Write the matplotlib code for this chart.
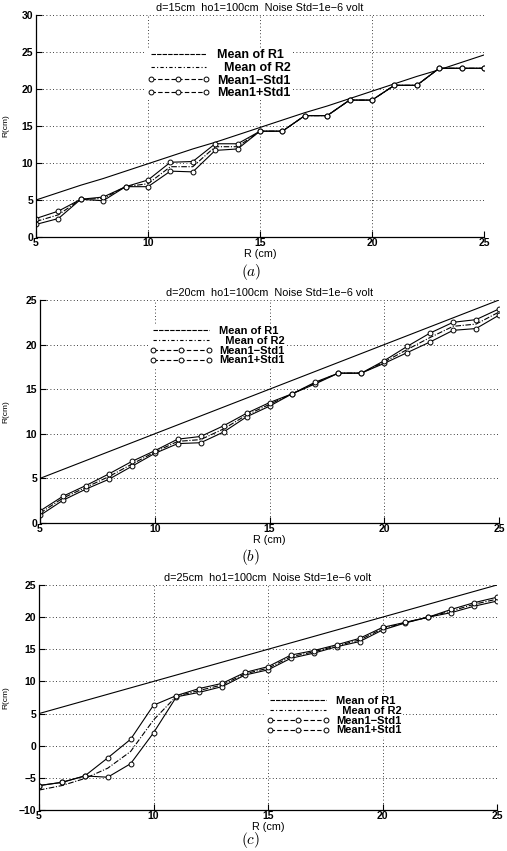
import numpy as np
import matplotlib
matplotlib.use('Agg')
import matplotlib.pyplot as plt
from matplotlib.lines import Line2D

plt.rcParams['font.family'] = ['Liberation Sans', 'DejaVu Sans']
plt.rcParams['font.weight'] = 'bold'
plt.rcParams['mathtext.fontset'] = 'cm'

# Data
R = [5, 6, 7, 8, 9, 10, 11, 12, 13, 14, 15, 16, 17, 18, 19, 20, 21, 22, 23, 24, 25]

# (a) d = 15 cm
r1_a = [5.0, 6.0, 7.0, 7.9, 8.9, 9.9, 10.9, 11.9, 12.8, 13.8, 14.8,
        15.8, 16.8, 17.7, 18.7, 19.7, 20.7, 21.7, 22.6, 23.6, 24.6]
r2_a = [2.1, 3.0, 5.1, 5.2, 6.8, 7.2, 9.5, 9.5, 12.2, 12.2, 14.3,
        14.3, 16.4, 16.4, 18.5, 18.5, 20.5, 20.5, 22.8, 22.8, 22.8]
lo_a = [1.7, 2.5, 5.1, 4.9, 6.8, 6.8, 8.9, 8.8, 11.7, 11.9, 14.3,
        14.3, 16.4, 16.4, 18.5, 18.5, 20.5, 20.5, 22.8, 22.8, 22.8]
hi_a = [2.5, 3.5, 5.1, 5.4, 6.8, 7.7, 10.1, 10.2, 12.6, 12.6, 14.3,
        14.3, 16.4, 16.4, 18.5, 18.5, 20.5, 20.5, 22.8, 22.8, 22.8]

# (b) d = 20 cm
r1_b = [5, 6, 7, 8, 9, 10, 11, 12, 13, 14, 15,
        16, 17, 18, 19, 20, 21, 22, 23, 24, 25]
r2_b = [1.1, 2.8, 4.0, 5.2, 6.6, 7.95, 9.15, 9.35, 10.55, 12.1, 13.3,
        14.5, 15.7, 16.8, 16.8, 18.05, 19.45, 20.8, 22.05, 22.3, 23.65]
lo_b = [0.85, 2.55, 3.8, 4.9, 6.35, 7.8, 8.9, 9.0, 10.2, 11.9, 13.1,
        14.5, 15.6, 16.8, 16.8, 17.9, 19.1, 20.3, 21.6, 21.8, 23.3]
hi_b = [1.35, 3.0, 4.2, 5.5, 6.9, 8.1, 9.4, 9.7, 10.9, 12.3, 13.5,
        14.5, 15.8, 16.8, 16.8, 18.2, 19.8, 21.3, 22.5, 22.8, 24.0]

# (c) d = 25 cm
r1_c = [5, 6, 7, 8, 9, 10, 11, 12, 13, 14, 15,
        16, 17, 18, 19, 20, 21, 22, 23, 24, 25]
r2_c = [-6.9, -6.2, -5.1, -3.5, -0.9, 4.0, 7.7, 8.6, 9.45, 11.2, 12.05,
        13.85, 14.6, 15.55, 16.45, 18.2, 19.15, 20.0, 20.95, 22.0, 22.8]
lo_c = [-6.2, -5.7, -4.7, -4.9, -2.8, 2.0, 7.6, 8.3, 9.2, 11.0, 11.8,
        13.6, 14.4, 15.4, 16.2, 18.0, 19.1, 20.0, 20.7, 21.7, 22.5]
hi_c = [-6.2, -5.7, -4.7, -1.9, 1.0, 6.3, 7.8, 8.9, 9.7, 11.4, 12.3,
        14.1, 14.8, 15.7, 16.7, 18.4, 19.2, 20.0, 21.2, 22.25, 23.1]

titles = ['d=15cm  ho1=100cm  Noise Std=1e\u22126 volt',
          'd=20cm  ho1=100cm  Noise Std=1e\u22126 volt',
          'd=25cm  ho1=100cm  Noise Std=1e\u22126 volt']
labels = ['Mean of R1', '  Mean of R2', 'Mean1\u2212Std1', 'Mean1+Std1']
captions = ['$(a)$', '$(b)$', '$(c)$']
ylims = [(0, 30), (0, 25), (-10, 25)]
yticks = [range(0, 31, 5), range(0, 26, 5), range(-10, 26, 5)]

W, H = 507, 851
# axes boxes in pixels: left, right, top, bottom
boxes = [(36, 484, 15, 237), (40, 499, 300, 523), (39, 497, 585, 810)]
legend_pos = [(146, 48), (149, 325), (266, 695)]
legend_fs = [9, 8, 8]
legend_gap = [0.05, -0.02, -0.02]
caption_y = [272, 557, 840]

fig = plt.figure(figsize=(W / 100, H / 100), dpi=100)

series = [(r1_a, r2_a, lo_a, hi_a), (r1_b, r2_b, lo_b, hi_b), (r1_c, r2_c, lo_c, hi_c)]

for i, (r1, r2, lo, hi) in enumerate(series):
    l, r, t, b = boxes[i]
    ax = fig.add_axes([l / W, 1 - b / H, (r - l) / W, (b - t) / H])
    lw = 0.8
    ax.plot(R, r1, color='k', lw=lw)
    ax.plot(R, r2, color='k', lw=lw, linestyle=(0, (5, 1.5, 1, 1.5)))
    ax.plot(R, lo, color='k', lw=lw, marker='o', ms=3.5, mfc='white', mew=0.7)
    ax.plot(R, hi, color='k', lw=lw, marker='o', ms=3.5, mfc='white', mew=0.7)

    ax.set_xlim(5, 25)
    ax.set_ylim(*ylims[i])
    ax.set_xticks([5, 10, 15, 20, 25])
    ax.set_yticks(list(yticks[i]))
    ax.grid(True, color='k', linestyle=(0, (1, 3)), linewidth=0.6)
    ax.tick_params(direction='in', length=4, labelsize=7.5, pad=2)
    ax.tick_params(axis='x', pad=1)
    for s in ['top', 'right']:
        ax.spines[s].set_visible(False)
    ax.spines['left'].set_linewidth(0.9)
    ax.spines['bottom'].set_linewidth(0.9)

    ax.set_title(titles[i], fontsize=7.8, pad=3)
    ax.set_xlabel('R (cm)', fontsize=7.8)
    ax.xaxis.set_label_coords(0.5, -12 / (b - t))
    ax.set_ylabel('R(cm)', fontsize=6, fontweight='normal')
    ax.yaxis.set_label_coords((9 - l) / (r - l), 0.5)

    handles = [
        Line2D([], [], color='k', lw=lw, linestyle=(0, (4, 1))),
        Line2D([], [], color='k', lw=lw, linestyle=(0, (3, 2, 1, 2))),
        Line2D([], [], color='k', lw=lw, linestyle=(0, (4, 2)), marker='o',
               ms=3.5, mfc='white', mew=0.7),
        Line2D([], [], color='k', lw=lw, linestyle=(0, (4, 2)), marker='o',
               ms=3.5, mfc='white', mew=0.7),
    ]
    lx, ly = legend_pos[i]
    ax.legend(handles, labels, loc='upper left',
              bbox_to_anchor=(lx / W, 1 - ly / H), bbox_transform=fig.transFigure,
              fontsize=legend_fs[i], handlelength=62 / (legend_fs[i] * 100 / 72),
              handletextpad=0.6, numpoints=3,
              labelspacing=legend_gap[i], borderpad=0.1, borderaxespad=0,
              frameon=True, fancybox=False, edgecolor='none', framealpha=1)

    fig.text(0.495, 1 - caption_y[i] / H, captions[i], ha='center', va='center', fontsize=11)

fig.savefig('out.png', dpi=100)
